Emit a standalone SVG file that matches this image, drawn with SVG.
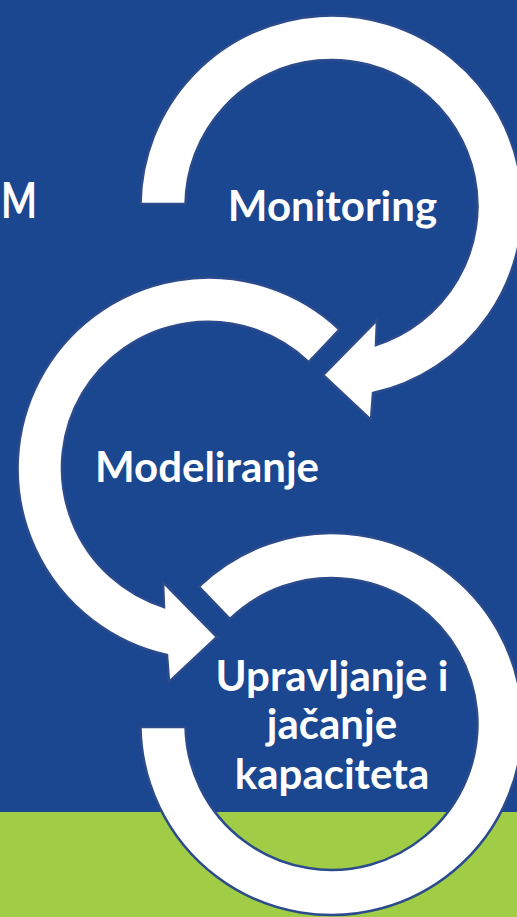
<svg xmlns="http://www.w3.org/2000/svg" width="517" height="917" viewBox="0 0 517 917">
<style>
.band{fill:#ffffff;stroke:#2b4b8c;stroke-width:2.5;stroke-linejoin:miter}
.lbl{font-family:Lato,"Open Sans","DejaVu Sans",sans-serif;font-weight:bold;fill:#ffffff}
</style>
<rect x="0" y="0" width="517" height="917" fill="#1b4690"/>
<rect x="0" y="812" width="517" height="105" fill="#a1cc46"/>
<text class="lbl" x="1" y="218" font-size="50" textLength="36" lengthAdjust="spacingAndGlyphs">M</text>
<g id="connectors">
<path id="arrow-monitoring" class="band" d="M140.5,204 A191,191 0 1 1 373,393 L371,420 L323,375 L377,320 L376,345 A146,146 0 1 0 185.5,204 Z"/>
<path id="arrow-modeliranje" class="band" d="M339.5,329.5 A191,191 0 1 0 167,655 L169,682 L217,637 L163,582 L164,607 A146,146 0 1 1 308.7,362.1 Z"/>
<path id="ring-upravljanje" class="band" d="M140.5,727 A191,191 0 1 0 198.8,586.6 L230,619 A146,146 0 1 1 185.5,727 Z"/>
</g>
<g id="node-monitoring">
<text class="lbl" x="332.5" y="221" font-size="42" text-anchor="middle">Monitoring</text>
</g>
<g id="node-modeliranje">
<text class="lbl" x="207" y="482" font-size="42" text-anchor="middle">Modeliranje</text>
</g>
<g id="node-upravljanje">
<text class="lbl" x="332" y="691" font-size="42" text-anchor="middle">Upravljanje i</text>
<text class="lbl" x="332" y="739" font-size="42" text-anchor="middle">jačanje</text>
<text class="lbl" x="332" y="789" font-size="42" text-anchor="middle">kapaciteta</text>
</g>
</svg>
